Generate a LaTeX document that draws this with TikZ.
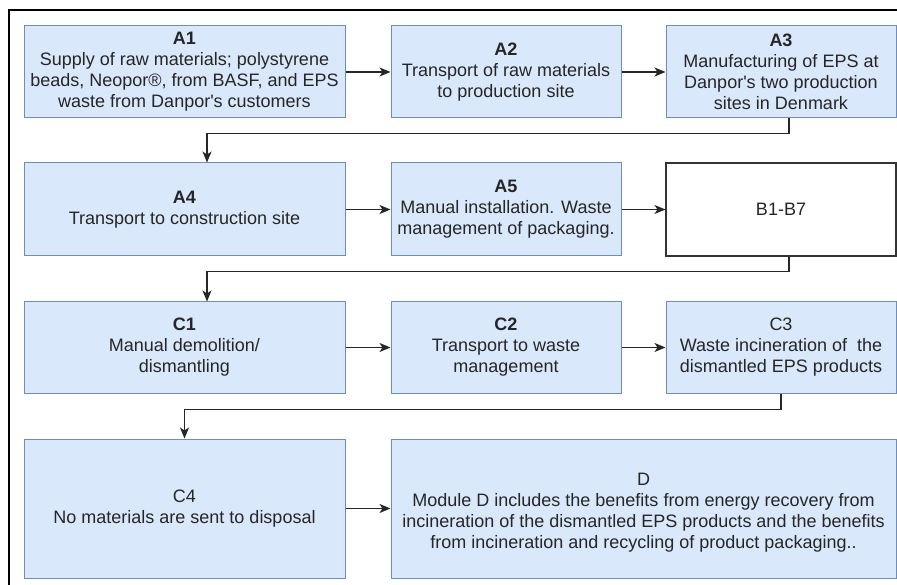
\documentclass[tikz,border=0pt]{standalone}
\usepackage{fontspec}
\setmainfont{Liberation Sans}
\usetikzlibrary{arrows.meta}
\definecolor{boxfill}{HTML}{DAE8FC}
\definecolor{boxline}{HTML}{6C8EBF}
\definecolor{txt}{HTML}{262626}
\begin{document}
\begin{tikzpicture}[x=1pt,y=-1pt,
  stage/.style={draw=boxline, fill=boxfill, line width=1pt, inner sep=0pt, text=txt, align=center, font=\fontsize{18}{21}\selectfont},
  plainbox/.style={draw=black!80, fill=white, line width=1.1pt, inner sep=0pt, text=txt, align=center, font=\fontsize{18}{21}\selectfont},
  flow/.style={-{Stealth[length=11pt,width=9pt,inset=3pt]}, line width=1.2pt, draw=black!85}
]
\useasboundingbox (0,0) rectangle (897,585);
\draw[line width=1.3pt] (9,585) -- (9,10) -- (897,10);

\node[stage, minimum width=321pt, minimum height=92pt] (A1) at (184.5,72)
  {\textbf{A1}\\Supply of raw materials; polystyrene\\beads, Neopor®, from BASF, and EPS\\waste from Danpor\textquotesingle s customers};
\node[stage, minimum width=230pt, minimum height=92pt] (A2) at (506,72)
  {\textbf{A2}\\Transport of raw materials\\to production site};
\node[stage, minimum width=230pt, minimum height=92pt] (A3) at (781,72)
  {\textbf{A3}\\Manufacturing of EPS at\\Danpor\textquotesingle s two production\\sites in Denmark};

\node[stage, minimum width=321pt, minimum height=93pt] (A4) at (184.5,209.5)
  {\textbf{A4}\\Transport to construction site};
\node[stage, minimum width=230pt, minimum height=93pt] (A5) at (506,209.5)
  {\textbf{A5}\\Manual installation. Waste\\management of packaging.};
\node[plainbox, minimum width=230pt, minimum height=93pt] (B) at (781,209.5)
  {B1-B7};

\node[stage, minimum width=321pt, minimum height=91pt] (C1) at (184.5,347.5)
  {\textbf{C1}\\Manual demolition/\\dismantling};
\node[stage, minimum width=230pt, minimum height=91pt] (C2) at (506,347.5)
  {\textbf{C2}\\Transport to waste\\management};
\node[stage, minimum width=230pt, minimum height=91pt] (C3) at (781,347.5)
  {C3\\Waste incineration of~ the\\dismantled EPS products};

\node[stage, minimum width=321pt, minimum height=139pt] (C4) at (184.5,508.5)
  {C4\\No materials are sent to disposal};
\node[stage, minimum width=505pt, minimum height=139pt] (D) at (643.5,508.5)
  {\mbox{}\\D\\Module D includes the benefits from energy recovery from\\incineration of the dismantled EPS products and the benefits\\from incineration and recycling of product packaging..};

\draw[flow] (A1.east) -- (A2.west);
\draw[flow] (A2.east) -- (A3.west);
\draw[flow] ([xshift=8pt]A3.south) -- ++(0,15) -| ([xshift=22.5pt]A4.north);
\draw[flow] (A4.east) -- (A5.west);
\draw[flow] (A5.east) -- (B.west);
\draw[flow] ([xshift=8pt]B.south) -- ++(0,15) -| ([xshift=22.5pt]C1.north);
\draw[flow] (C1.east) -- (C2.west);
\draw[flow] (C2.east) -- (C3.west);
\draw[flow] (C3.south) -- ++(0,16) -| (C4.north);
\draw[flow] (C4.east) -- (D.west);
\end{tikzpicture}
\end{document}
